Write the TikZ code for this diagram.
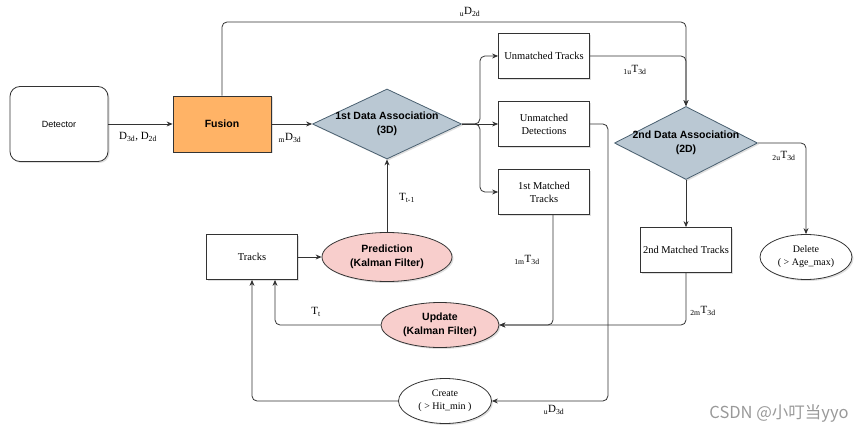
\documentclass[tikz,border=0pt]{standalone}
\usepackage{fontspec}
\setmainfont{Liberation Serif}
\setsansfont{Liberation Sans}
\newfontfamily\cjkfont{Noto Sans CJK SC}
\usetikzlibrary{shapes.geometric,arrows.meta,shadows}
\definecolor{fusionorange}{HTML}{FFB366}
\definecolor{assocblue}{HTML}{BAC8D3}
\definecolor{assocedge}{HTML}{4A6070}
\definecolor{kalmanpink}{HTML}{F8CECC}
\definecolor{linegray}{HTML}{333333}
\tikzset{
  shade/.style={drop shadow={opacity=0.25,shadow xshift=1.5pt,shadow yshift=-1.5pt}},
  box/.style={rectangle,draw=linegray,line width=0.8pt,fill=white,shade,minimum width=91pt,minimum height=45pt,inner sep=2pt,align=center,font=\fontsize{10.5}{13}\selectfont},
  startbox/.style={box,rounded corners=10pt,minimum width=98pt,minimum height=75pt,font=\sffamily\fontsize{9}{11}\selectfont},
  fusionbox/.style={box,fill=fusionorange,minimum width=98pt,minimum height=56pt,font=\sffamily\bfseries\fontsize{10.5}{13}\selectfont},
  decision/.style={diamond,draw=assocedge,line width=0.8pt,fill=assocblue,shade,inner sep=0pt},
  dtext/.style={align=center,font=\sffamily\bfseries\fontsize{10.5}{14}\selectfont},
  kalman/.style={ellipse,draw=linegray,line width=0.8pt,fill=kalmanpink,shade,inner sep=0pt,minimum width=130pt,minimum height=49pt,align=center,font=\sffamily\bfseries\fontsize{10.5}{14}\selectfont},
  endnode/.style={ellipse,draw=linegray,line width=0.8pt,fill=white,shade,inner sep=0pt,minimum width=92pt,minimum height=45pt,align=center,font=\fontsize{10}{13}\selectfont},
  flow/.style={draw=linegray,line width=0.8pt,rounded corners=5pt,-{Stealth[length=6pt,width=5pt]}},
  lbl/.style={inner sep=0pt,font=\fontsize{11}{13}\selectfont},
  wmark/.style={inner sep=0pt,text=black!40,font=\cjkfont\fontsize{16.5}{18}\selectfont}
}
\begin{document}
\begin{tikzpicture}[x=1pt,y=-1pt]
	\useasboundingbox (0,0) rectangle (865,433);
	
	%%%%% NODES %%%%%
	\node[startbox] (det) at (59,124) {Detector};
	\node[fusionbox] (fus) at (222,124) {Fusion};
	\node[decision,minimum width=149pt,minimum height=70pt,label={[dtext]center:{1st Data Association\\(3D)}}] (da1) at (387,124) {};
	
	\node[box] (umt) at (544,56) {Unmatched Tracks};
	\node[box] (umd) at (544,124) {Unmatched\\Detections};
	\node[box] (mt1) at (544,192) {1st Matched\\Tracks};
	
	\node[decision,minimum width=143pt,minimum height=73pt,label={[dtext]center:{2nd Data Association\\(2D)}}] (da2) at (686,143) {};
	\node[box] (mt2) at (686,250) {2nd Matched Tracks};
	\node[endnode] (del) at (806,257) {Delete\\( > Age\_max)};
	
	\node[box] (trk) at (252,257) {Tracks};
	\node[kalman] (pred) at (387,257) {Prediction\\(Kalman Filter)};
	\node[kalman,minimum width=118pt,minimum height=45pt] (upd) at (440,325) {Update\\(Kalman Filter)};
	\node[endnode,minimum width=93pt] (cre) at (445,401) {Create\\( > Hit\_min )};
	
	%%%%% CONNECTORS %%%%%
	\draw[flow] (det.east) -- (fus.west);
	\draw[flow] (fus.east) -- (da1.west);
	\draw[flow] (fus.north) -- (fus.north |- 0,22) -| (da2.north);
	
	\draw[flow] (da1.east) -- ++(18,0) |- (umt.west);
	\draw[flow] (da1.east) -- (umd.west);
	\draw[flow] (da1.east) -- ++(18,0) |- (mt1.west);
	
	\draw[flow] (umt.east) -| (da2.north);
	\draw[flow] (umd.east) -- ++(18,0) |- (cre.east);
	\draw[flow] ([xshift=9pt]mt1.south) |- (upd.east);
	
	\draw[flow] (da2.east) -| (del.north);
	\draw[flow] (da2.south) -- (mt2.north);
	\draw[flow] (mt2.south) |- (upd.east);
	
	\draw[flow] (trk.east) -- (pred.west);
	\draw[flow] (pred.north) -- (da1.south);
	\draw[flow] (upd.west) -| ([xshift=23pt]trk.south);
	\draw[flow] (cre.west) -| (trk.south);
	
	%%%%% LABELS %%%%%
	\node[lbl] (l1) at (138,137) {D\textsubscript{3d}, D\textsubscript{2d}};
	\node[lbl] (l2) at (290,138) {\textsubscript{m}D\textsubscript{3d}};
	\node[lbl] (l3) at (470,12) {\textsubscript{u}D\textsubscript{2d}};
	\node[lbl] (l4) at (635,70) {\textsubscript{1u}T\textsubscript{3d}};
	\node[lbl] (l5) at (784,156) {\textsubscript{2u}T\textsubscript{3d}};
	\node[lbl] (l6) at (407,198) {T\textsubscript{t-1}};
	\node[lbl] (l7) at (527,260) {\textsubscript{1m}T\textsubscript{3d}};
	\node[lbl] (l8) at (703,311) {\textsubscript{2m}T\textsubscript{3d}};
	\node[lbl] (l9) at (316,312) {T\textsubscript{t}};
	\node[lbl] (l10) at (554,410) {\textsubscript{u}D\textsubscript{3d}};
	
	\node[wmark] (wm) at (779,413) {CSDN @小叮当yyo};
\end{tikzpicture}
\end{document}
